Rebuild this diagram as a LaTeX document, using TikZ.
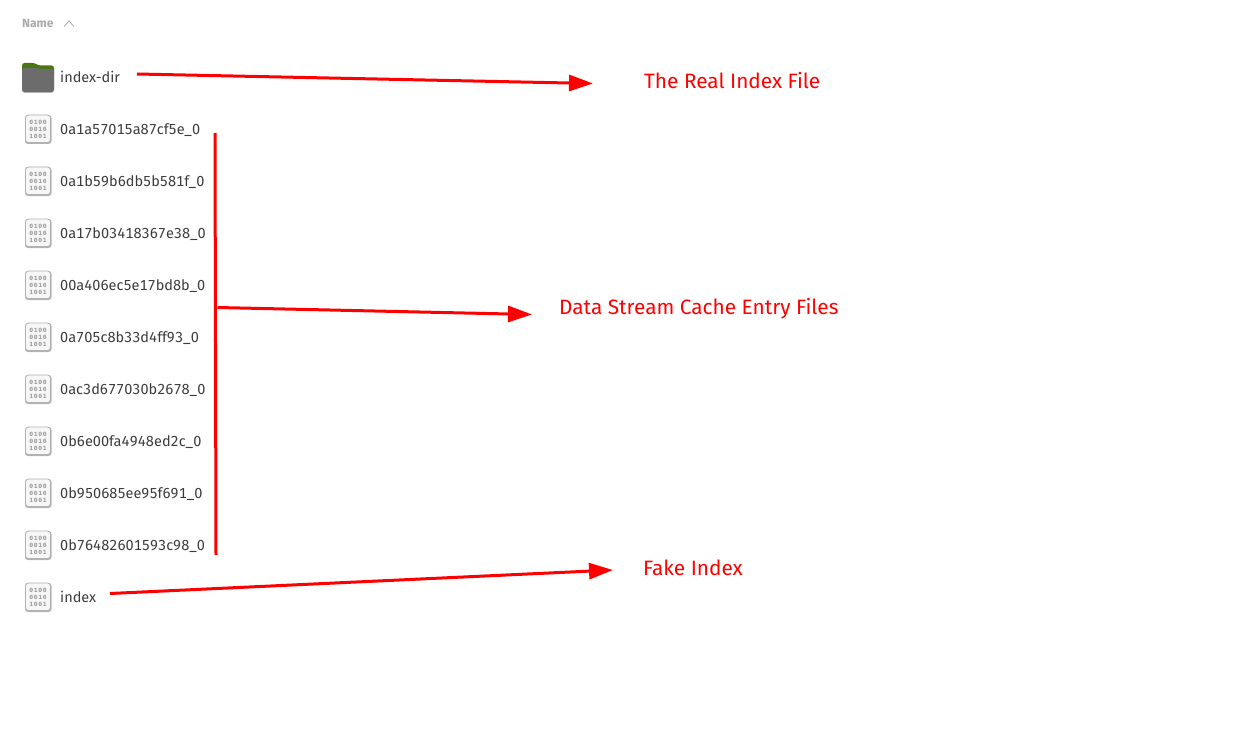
\documentclass[tikz,border=0pt]{standalone}
\usepackage{fontspec}
\setmainfont[Numbers=Monospaced]{Fira Sans}
\newfontfamily\bitfont[LetterSpace=10]{Liberation Mono}
\usetikzlibrary{arrows.meta}
\definecolor{redink}{RGB}{255,0,0}
\definecolor{filetext}{RGB}{61,61,61}
\definecolor{headgrey}{RGB}{170,170,170}
\definecolor{foldergreen}{RGB}{72,118,16}
\definecolor{folderbody}{RGB}{108,108,108}
\tikzset{
  x=1pt,y=-1pt,
  fname/.style={anchor=base west,inner sep=0pt,text=filetext,font=\fontsize{14.5}{16}\selectfont},
  note/.style={anchor=base west,inner sep=0pt,text=redink,font=\fontsize{20.8}{23}\selectfont},
  head/.style={anchor=base west,inner sep=0pt,text=headgrey,font=\fontsize{12}{14}\selectfont\bfseries},
  redline/.style={draw=redink,line width=3pt},
  redarrow/.style={redline,-{Triangle[length=24pt,width=16pt]}},
  bits/.style={inner sep=0pt,text=black!42,font=\fontsize{6.4}{6.4}\selectfont\bitfont\bfseries},
}
\newcommand{\binicon}[2]{%
  \fill[black!30,rounded corners=3pt] (25,#2-14) rectangle (51.5,#2+15);
  \filldraw[draw=black!30,fill=black!3,line width=.8pt,rounded corners=3pt] (25.5,#2-14) rectangle (50.5,#2+13.5);
  \node[bits] (#1a) at (38,#2-7) {0100};
  \node[bits] (#1b) at (38,#2) {0010};
  \node[bits] (#1c) at (38,#2+7) {1001};
}
\begin{document}
\begin{tikzpicture}
\useasboundingbox (0,0) rectangle (1238,730);
\fill[white] (0,0) rectangle (1238,730);
% header
\node[head] (hname) at (22,27.5) {Name};
\coordinate (c1) at (64,26.5); \coordinate (c2) at (69,21); \coordinate (c3) at (74,26.5);
\draw[headgrey,line width=.8pt] (c1) -- (c2) -- (c3);
% folder
\fill[black!30,rounded corners=3pt] (22,70) rectangle (54,93);
\fill[foldergreen,rounded corners=2.5pt] (22,63) -- (35,63) -- (38,65.5) -- (54,65.5) -- (54,76) -- (22,76) -- cycle;
\fill[folderbody,rounded corners=2.5pt] (22,68) -- (36,68) -- (38.5,69) -- (54,69) -- (54,92) -- (22,92) -- cycle;
\node[fname] (fdir) at (60,82.5) {index-dir};
% files
\binicon{ia}{129}\node[fname] (fa) at (60,134.5) {0a1a57015a87cf5e\_0};
\binicon{ib}{181}\node[fname] (fb) at (60,186.5) {0a1b59b6db5b581f\_0};
\binicon{ic}{233}\node[fname] (fc) at (60,238.5) {0a17b03418367e38\_0};
\binicon{id}{285}\node[fname] (fd) at (60,290.5) {00a406ec5e17bd8b\_0};
\binicon{ie}{337}\node[fname] (fe) at (60,342.5) {0a705c8b33d4ff93\_0};
\binicon{if}{389}\node[fname] (ff) at (60,394.5) {0ac3d677030b2678\_0};
\binicon{ig}{441}\node[fname] (fg) at (60,446.5) {0b6e00fa4948ed2c\_0};
\binicon{ih}{493}\node[fname] (fh) at (60,498.5) {0b950685ee95f691\_0};
\binicon{ii}{545}\node[fname] (fi) at (60,550.5) {0b76482601593c98\_0};
\binicon{ij}{597}\node[fname] (fj) at (60,602.5) {index};
% notes
\node[note] (n1) at (644,88.5) {The Real Index File};
\node[note] (n2) at (559,314) {Data Stream Cache Entry Files};
\node[note] (n3) at (643,575.5) {Fake Index};
% connectors
\coordinate (s1) at (137,74); \coordinate (e1) at (593,83.5);
\coordinate (b1) at (215,133); \coordinate (b2) at (216,555);
\coordinate (s2) at (217.5,307.5); \coordinate (e2) at (532,314.5);
\coordinate (s3) at (110,593.5); \coordinate (e3) at (613,570);
\draw[redarrow] (s1) -- (e1);
\draw[redline] (b1) -- (b2);
\draw[redarrow] (s2) -- (e2);
\draw[redarrow] (s3) -- (e3);
\end{tikzpicture}
\end{document}
